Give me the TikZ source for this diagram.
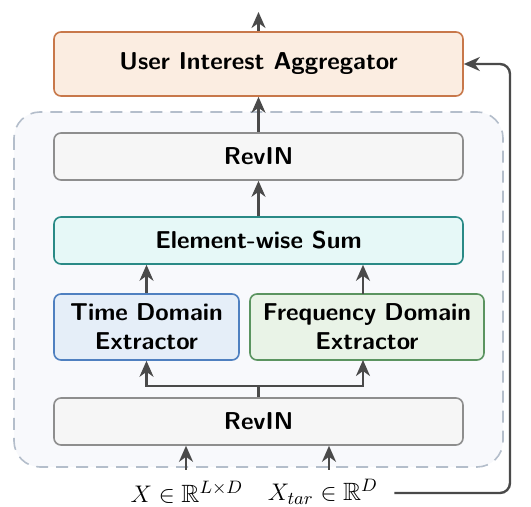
\documentclass[tikz,border=0pt]{standalone}
\usepackage{amssymb}
\usetikzlibrary{arrows.meta,positioning}
\definecolor{aggline}{HTML}{C8784A}
\definecolor{aggfill}{HTML}{FBEDE1}
\definecolor{revline}{HTML}{8E8E8E}
\definecolor{revfill}{HTML}{F6F6F6}
\definecolor{sumline}{HTML}{2A8A86}
\definecolor{sumfill}{HTML}{E6F8F7}
\definecolor{timeline}{HTML}{4F80C0}
\definecolor{timefill}{HTML}{E5EEF8}
\definecolor{freqline}{HTML}{5B9460}
\definecolor{freqfill}{HTML}{E9F3E7}
\definecolor{encline}{HTML}{B4BECB}
\definecolor{encfill}{HTML}{F8F9FC}
\definecolor{arrowgray}{HTML}{4A4A4A}
\begin{document}
\begin{tikzpicture}[x=0.5pt, y=-0.5pt,
    every node/.style={inner sep=0pt, text centered, font=\sffamily\bfseries\fontsize{12.2}{14.5}\selectfont},
    block/.style={draw, rounded corners=3.5pt, line width=0.8pt, minimum width=204.5pt, minimum height=23.5pt},
    flow/.style={draw=arrowgray, line width=1.2pt, -{Stealth[length=8pt, width=7pt, inset=2.5pt]}}]
\useasboundingbox (0,0) rectangle (531,507);
% encoder frame
\draw[encline, fill=encfill, dash pattern=on 6pt off 4pt, line width=0.8pt, rounded corners=13pt] (14,112) rectangle (503,467);

\node [block, draw=aggline, fill=aggfill, minimum height=32pt] (agg) at (258.5,64) {User Interest Aggregator};
\node [block, draw=revline, fill=revfill] (revtop) at (258.5,156.5) {RevIN};
\node [block, draw=sumline, fill=sumfill] (sum) at (258.5,240.5) {Element-wise Sum};
\node [block, draw=timeline, fill=timefill, minimum width=92.5pt, minimum height=33pt, text width=90pt, align=center] (time) at (146.5,327) {Time Domain\\Extractor};
\node [block, draw=freqline, fill=freqfill, minimum width=117pt, minimum height=33pt, text width=115pt, align=center] (freq) at (367,327) {Frequency Domain\\Extractor};
\node [block, draw=revline, fill=revfill] (revbot) at (258.5,421.5) {RevIN};

\node [font=\fontsize{12.5}{14.5}\selectfont] (x) at (187,492) {$X \in \mathbb{R}^{L\times D}$};
\node [font=\fontsize{12.5}{14.5}\selectfont] (xtar) at (323,492) {$X_{tar} \in \mathbb{R}^{D}$};
\coordinate (out) at (258.5,12);
\coordinate (fork) at (258.5,386);
\coordinate (freqin) at (363,360);
\coordinate (freqout) at (363,294);
\coordinate (xin) at (186,470);
\coordinate (xtarin) at (329,470);
\coordinate (bend) at (510,493);

\draw [flow] (agg) -- (out);
\draw [flow] (revtop) -- (agg);
\draw [flow] (sum) -- (revtop);
\draw [flow] (time.north) -- (time.north |- sum.south);
\draw [flow] (freqout) -- (freqout |- sum.south);
\draw [flow] (revbot.north -| fork) -- (fork) -| (time.south);
\draw [flow] (fork) -| (freqin);
\draw [flow] (xin) -- (xin |- revbot.south);
\draw [flow] (xtarin) -- (xtarin |- revbot.south);
\draw [flow, rounded corners=5pt] ([xshift=8pt]xtar.east |- bend) -- (bend) -- (bend |- agg.east) -- (agg.east);
\end{tikzpicture}
\end{document}
